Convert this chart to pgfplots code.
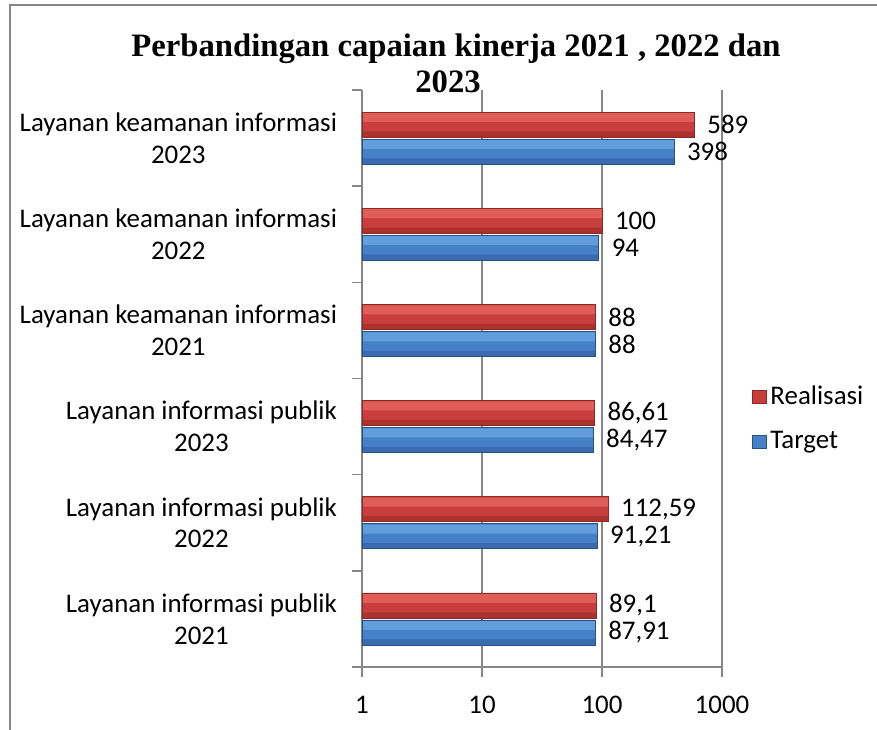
\documentclass[border=0pt]{standalone}
\usepackage{fontspec}
\setmainfont{Carlito}
\newfontfamily\tnr{Liberation Serif}
\usepackage{pgfplots}
\pgfplotsset{compat=1.18}
\usepackage{pgfplotstable}
\definecolor{gridgray}{RGB}{134,134,134}
\definecolor{redmain}{RGB}{200,62,60}
\definecolor{redlight}{RGB}{224,94,90}
\definecolor{reddark}{RGB}{172,50,48}
\definecolor{redline}{RGB}{140,40,38}
\definecolor{bluemain}{RGB}{70,128,198}
\definecolor{bluelight}{RGB}{98,158,222}
\definecolor{bluedark}{RGB}{56,108,172}
\definecolor{blueline}{RGB}{40,80,130}
\pgfplotstableread{
y real tgt rl tl
0 89.1 87.91 89,1 87,91
1 112.59 91.21 112,59 91,21
2 86.61 84.47 86,61 84,47
3 88 88 88 88
4 100 94 100 94
5 589 398 589 398
}\datatable
\newcommand{\lblfont}{\fontsize{13.5}{16}\selectfont}
\begin{document}
\begin{tikzpicture}
\useasboundingbox (-181bp,-31.5bp) rectangle (257.5bp,333.5bp);
\draw[gridgray, line width=1.2bp] (-176bp,-31.5bp) -- (-176bp,331bp) -- (257.5bp,331bp);
\begin{axis}[
 at={(0,0)}, anchor=south west,
 scale only axis, width=180bp, height=288.5bp,
 xbar, bar width=12.5bp,
 xmode=log, log basis x=10, xmin=1, xmax=1000,
 xtick={1,10,100,1000}, xticklabels={1,10,100,1000},
 xminorticks=false,
 ymin=-0.5, ymax=5.5,
 ytick={0,...,5},
 yticklabels={{Layanan informasi publik\\2021},{Layanan informasi publik\\2022},{Layanan informasi publik\\2023},{Layanan keamanan informasi\\2021},{Layanan keamanan informasi\\2022},{Layanan keamanan informasi\\2023}},
 minor ytick={-0.5,0.5,...,5.5},
 axis x line*=bottom, axis y line*=left,
 axis line style={gridgray, line width=0.8bp, -},
 tick align=outside,
 major tick length=5bp, minor tick length=5bp,
 tick style={gridgray, line width=0.8bp},
 major y tick style={draw=none},
 xmajorgrids, grid style={gridgray, line width=0.8bp},
 /pgf/number format/assume math mode=true,
 ticklabel style={font=\lblfont, text=black},
 yticklabel style={align=center, xshift=-4bp},
 xticklabel style={yshift=-6bp},
 legend image code/.code={\draw[#1] (0bp,-3.3bp) rectangle (6.6bp,3.3bp);},
 legend style={at={(1.067,0.43)}, anchor=west, draw=none, fill=none, font=\lblfont, row sep=8bp, legend cell align=left},
 nlabel/.style={point meta=explicit symbolic, nodes near coords,
   every node near coord/.append style={font=\lblfont, text=black, anchor=west, xshift=3bp}},
]
% base bars
\addplot[bar shift=6.75bp, draw=redline, line width=0.4bp, fill=redmain, nlabel] table[x=real, y=y, meta=rl] {\datatable};
\addplot[bar shift=-6.75bp, draw=blueline, line width=0.4bp, fill=bluemain, nlabel] table[x=tgt, y=y, meta=tl] {\datatable};
\legend{Realisasi, Target}
% highlight bands
\addplot[forget plot, bar shift=10.3bp, bar width=4.5bp, draw=none, fill=redlight] table[x=real, y=y] {\datatable};
\addplot[forget plot, bar shift=-3.2bp, bar width=4.5bp, draw=none, fill=bluelight] table[x=tgt, y=y] {\datatable};
% shadow bands
\addplot[forget plot, bar shift=1.9bp, bar width=2.8bp, draw=none, fill=reddark] table[x=real, y=y] {\datatable};
\addplot[forget plot, bar shift=-11.6bp, bar width=2.8bp, draw=none, fill=bluedark] table[x=tgt, y=y] {\datatable};
% outlines
\addplot[forget plot, bar shift=6.75bp, draw=redline, line width=0.4bp, fill=none] table[x=real, y=y] {\datatable};
\addplot[forget plot, bar shift=-6.75bp, draw=blueline, line width=0.4bp, fill=none] table[x=tgt, y=y] {\datatable};
\end{axis}
\node[font=\tnr\bfseries\fontsize{16.4}{19}\selectfont, anchor=base] at (47bp,305bp) {Perbandingan capaian kinerja 2021 , 2022 dan};
\node[font=\tnr\bfseries\fontsize{16.4}{19}\selectfont, anchor=base] at (43bp,287bp) {2023};
\end{tikzpicture}
\end{document}
